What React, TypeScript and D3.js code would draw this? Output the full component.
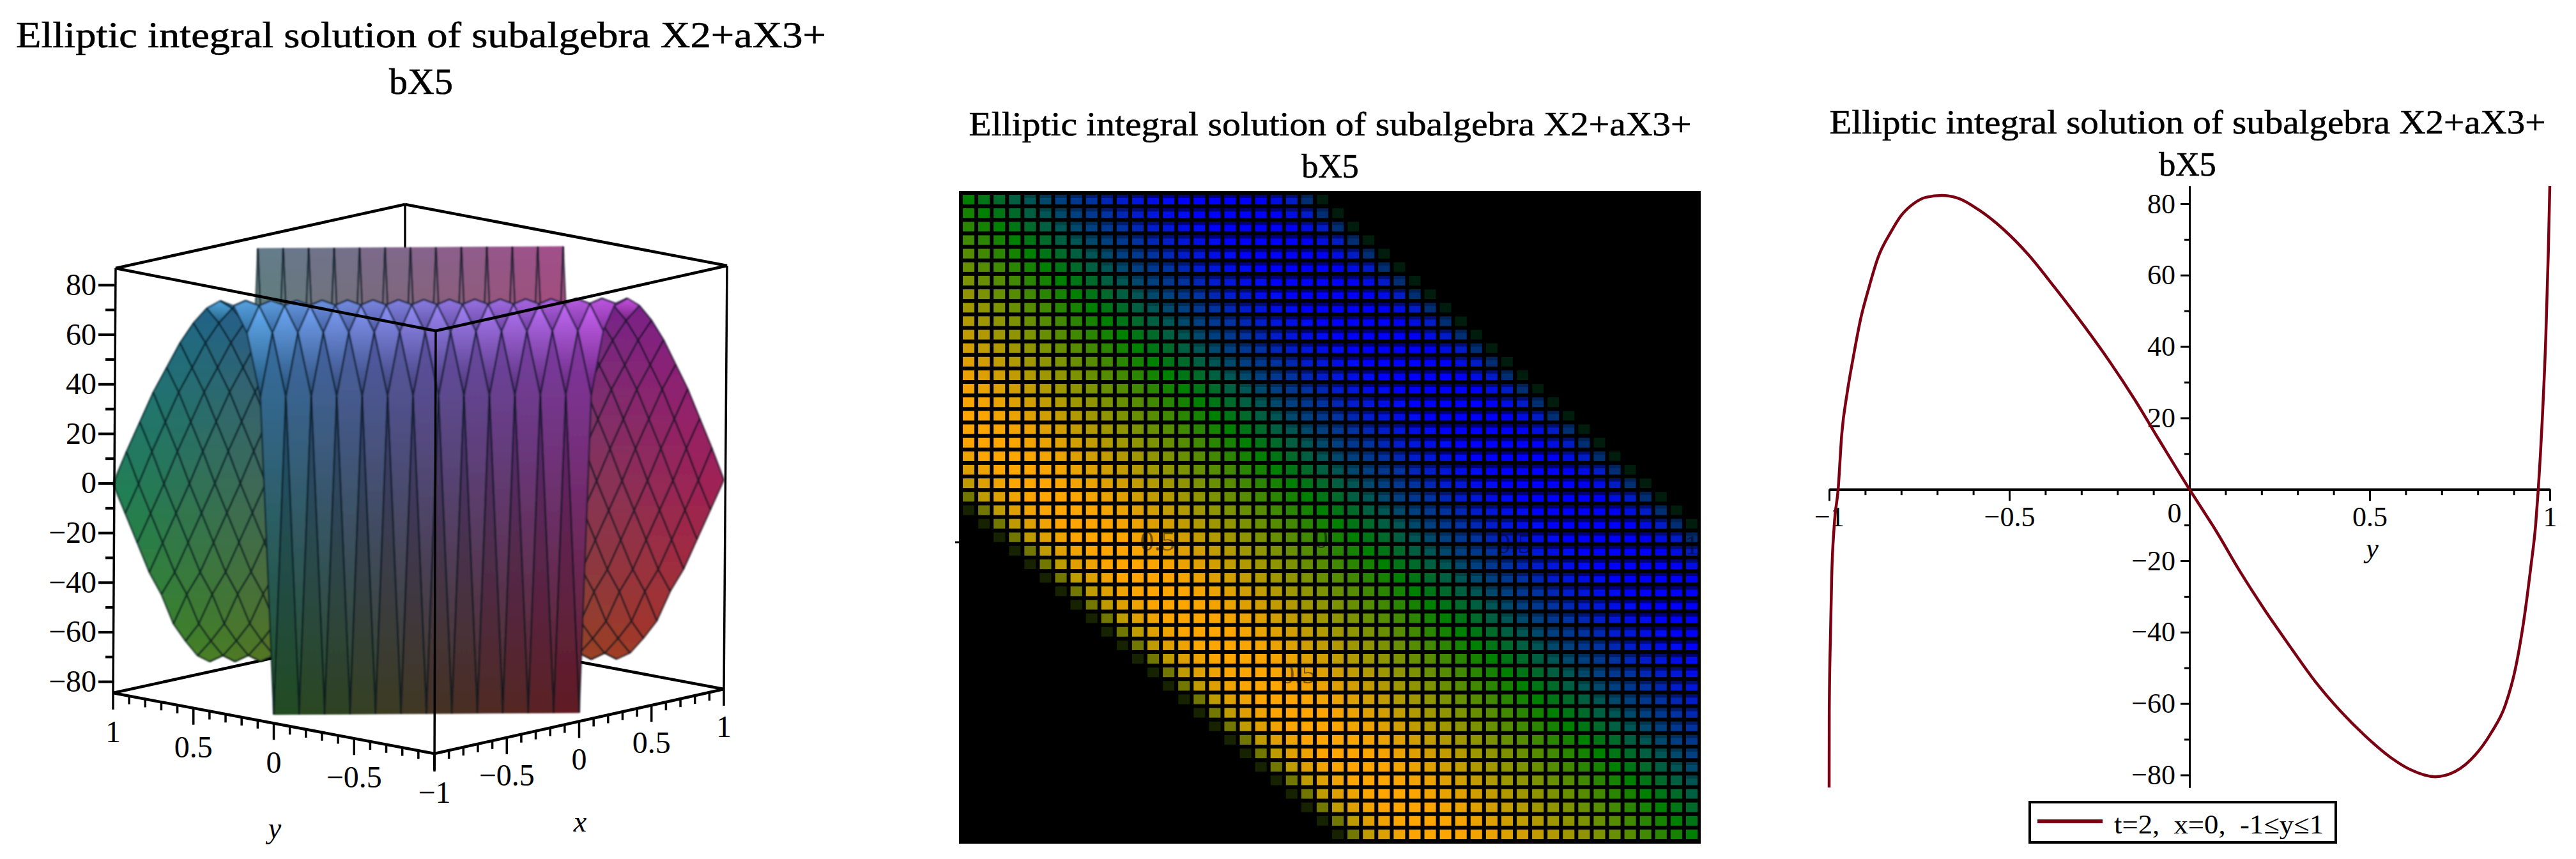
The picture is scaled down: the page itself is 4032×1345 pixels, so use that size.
import React, { useEffect, useRef } from 'react';
import * as d3 from 'd3';

const TITLE_LINE_1 = 'Elliptic integral solution of subalgebra X2+aX3+';
const TITLE_LINE_2 = 'bX5';
const LEGEND_LABEL = 't=2,\u00a0\u00a0x=0,\u00a0\u00a0-1\u2264y\u22641';

// x=0 slice
const curveY = [
  -1, -0.9997, -0.996, -0.993, -0.986, -0.975, -0.965, -0.95, -0.933, -0.912, -0.891, -0.864, -0.829, -0.8, -0.766,
  -0.731, -0.687, -0.641, -0.585, -0.515, -0.446, -0.376, -0.292, -0.223, -0.153, -0.084, 0, 0.042, 0.07, 0.139,
  0.209, 0.279, 0.348, 0.418, 0.487, 0.557, 0.613, 0.682, 0.738, 0.794, 0.836, 0.877, 0.905, 0.926, 0.947, 0.961,
  0.968, 0.979, 0.989, 0.996, 1,
];
const curveZ = [
  -83.5, -62, -39.7, -25, -10.3, 0, 15.4, 27, 37, 48, 56, 65, 72, 76.7, 80,
  81.8, 82.3, 81.5, 78.3, 72.7, 65.6, 56.8, 45.7, 36, 25.3, 13.8, 0, -6.6, -11, -22.8,
  -33.8, -44, -53.7, -62, -69, -75, -78.5, -80.5, -79, -74.3, -68.4, -60.3, -50, -38, -22, -9.6,
  0, 19.4, 43, 67, 85,
];

// same slice at the 49 grid steps y = -1 .. 1 (1/24 apart), used by the surface and the density plot
const sliceZ = [
  -81, 23, 46, 61, 71, 77, 81, 82, 82, 80.5, 78, 75, 71, 67, 62, 57, 51, 45.7, 40, 33, 27, 21, 14, 7,
  0, -7, -13, -20, -26, -33, -39, -44, -49, -55, -62, -66, -70, -74, -77, -79, -80.5, -80, -78, -74.5, -69, -61, -44, -14,
  82,
];

const zMajor = [-80, -60, -40, -20, 0, 20, 40, 60, 80];
const zMinor = [-70, -50, -30, -10, 10, 30, 50, 70];
const xyMajor = [-1, -0.5, 0, 0.5, 1];
const xyMinor = [-0.9, -0.8, -0.7, -0.6, -0.4, -0.3, -0.2, -0.1, 0.1, 0.2, 0.3, 0.4, 0.6, 0.7, 0.8, 0.9];

const densityLabels = [
  { text: '0.5', x: 1812, y: 862 },
  { text: '0.5', x: 2032, y: 1070 },
  { text: '0', x: 2068, y: 858 },
  { text: '0.5', x: 2370, y: 866 },
  { text: '1', x: 2648, y: 868 },
];

const FONT = '"Liberation Serif", "Times New Roman", serif';
const fmtTick = (v: number) => String(v).replace('-', '\u2212');

const drawTitle = (svg, cx, y1, y2, size, width) => {
  const g = svg.append('g').attr('stroke', '#000').attr('stroke-width', 0.6);
  g.append('text').attr('x', cx).attr('y', y1).attr('text-anchor', 'middle')
    .attr('font-size', size).attr('textLength', width).attr('lengthAdjust', 'spacingAndGlyphs')
    .text(TITLE_LINE_1);
  g.append('text').attr('x', cx).attr('y', y2).attr('text-anchor', 'middle')
    .attr('font-size', size).text(TITLE_LINE_2);
};

const drawSurface = (svg, defs) => {
  // parallel projection fitted to the box corners
  const px = (x, y) => 655 + 226.5 * x - 251.5 * y;
  const zScale = d3.scaleLinear().domain([-84.5, 87]).range([0, 665]);
  const py = (x, y, z) => 1082 - 50.5 * x - 47.5 * y - zScale(z);

  const rScale = d3.scaleLinear().domain([-1, 1]).range([0.12, 0.63]);
  const gScale = d3.scaleLinear().domain([-1, 1]).range([0.12, 0.5]);
  const bScale = d3.scaleLinear().domain([-80, 80]).range([0.14, 0.54]);
  // only the gently sloped strip just in front of the ridge catches the light
  const litScale = d3.scaleLinear().domain([-6, -4, 1, 10, 25]).range([0, 0.8, 1, 0.3, 0]).clamp(true);
  const toRgb = (x, y, z, lit) => {
    const ch = (c) => Math.min(255, 255 * (c * (1 + 0.4 * lit) + 0.2 * lit));
    return d3.rgb(ch(rScale(x)), ch(gScale(y)), ch(bScale(z))).formatHex();
  };

  const n = 24;
  const grid = d3.range(n + 1).map((i) => -1 + i / 12);
  const zAt = (k) => sliceZ[2 * k - 24];
  const inBand = (k) => k >= 12 && k <= 36;
  const litAt = (k) => {
    if (!inBand(k + 1) || zAt(k) < 30) return 0;
    return litScale(zAt(k + 1) - zAt(k));
  };
  const vertex = (i, j) => {
    const k = i + j;
    const x = grid[i];
    const y = grid[j];
    const z = zAt(k);
    return { i, j, k, x, y, z, sx: px(x, y), sy: py(x, y, z), color: toRgb(x, y, z, litAt(k)) };
  };

  const cells = [];
  d3.range(n).forEach((i) => d3.range(n).forEach((j) => {
    const corners = [[i, j], [i + 1, j], [i + 1, j + 1], [i, j + 1]]
      .filter(([a, b]) => inBand(a + b))
      .map(([a, b]) => vertex(a, b));
    if (corners.length >= 3) cells.push({ k: i + j, i, j, corners });
  }));
  cells.sort((a, b) => b.k - a.k || a.i - b.i);

  const soft = defs.append('filter').attr('id', 'soft').attr('x', '-2%').attr('y', '-2%')
    .attr('width', '104%').attr('height', '104%');
  soft.append('feGaussianBlur').attr('stdDeviation', 1);

  const back = svg.append('g').attr('fill', 'none').attr('stroke', '#000');
  const backLines = [
    [177, 1085, 634, 985, 4.5], [1133, 1079, 634, 985, 4.5], [634, 320, 634, 390, 3.5],
    [181, 420, 634, 320, 4.5], [1138, 416, 634, 320, 4.5],
  ];
  backLines.forEach(([x1, y1, x2, y2, w]) => {
    back.append('line').attr('x1', x1).attr('y1', y1).attr('x2', x2).attr('y2', y2).attr('stroke-width', w);
  });

  const sheet = svg.append('g').attr('stroke-linejoin', 'round').attr('filter', 'url(#soft)');
  cells.forEach((cell, idx) => {
    const kLo = d3.min(cell.corners, (c) => c.k);
    const kHi = d3.max(cell.corners, (c) => c.k);
    const lo = cell.corners.filter((c) => c.k === kLo);
    const hi = cell.corners.filter((c) => c.k === kHi);
    const id = `cell-${idx}`;
    const grad = defs.append('linearGradient').attr('id', id).attr('gradientUnits', 'userSpaceOnUse')
      .attr('x1', d3.mean(lo, (c) => c.sx)).attr('y1', d3.mean(lo, (c) => c.sy))
      .attr('x2', d3.mean(hi, (c) => c.sx)).attr('y2', d3.mean(hi, (c) => c.sy));
    grad.append('stop').attr('offset', 0).attr('stop-color', lo[0].color);
    grad.append('stop').attr('offset', 1).attr('stop-color', hi[0].color);

    const outline = d3.line().x((c) => c.sx).y((c) => c.sy).curve(d3.curveLinearClosed);
    sheet.append('path').attr('d', outline(cell.corners)).attr('fill', `url(#${id})`)
      .attr('stroke', `url(#${id})`).attr('stroke-width', 0.8);

    // grid edges only, the clipped rim of the band stays unstroked
    const edge = d3.line().x((c) => c.sx).y((c) => c.sy);
    for (let e = 0; e < cell.corners.length; e++) {
      const a = cell.corners[e];
      const b = cell.corners[(e + 1) % cell.corners.length];
      if (Math.abs(a.i - b.i) + Math.abs(a.j - b.j) !== 1) continue;
      sheet.append('path').attr('d', edge([a, b])).attr('fill', 'none')
        .attr('stroke', '#04141e').attr('stroke-opacity', 0.55).attr('stroke-width', 3);
    }
  });

  const front = svg.append('g').attr('fill', 'none').attr('stroke', '#000');
  const frontLines = [
    [181, 420, 682, 518, 4.5], [1138, 416, 682, 518, 4.5], [682, 518, 680, 1208, 3.5],
    [181, 420, 177, 1085, 3.5], [1138, 416, 1133, 1079, 3.5],
    [177, 1085, 680, 1180, 4.5], [1133, 1079, 680, 1180, 4.5],
  ];
  frontLines.forEach(([x1, y1, x2, y2, w]) => {
    front.append('line').attr('x1', x1).attr('y1', y1).attr('x2', x2).attr('y2', y2).attr('stroke-width', w);
  });

  // vertical axis on the left edge of the box
  const zAxisScale = d3.scaleLinear().domain([-80, 80]).range([1067, 446]);
  const zAxis = svg.append('g').attr('transform', 'translate(179,0)');
  zAxis.append('g').call(d3.axisLeft(zAxisScale).tickValues(zMajor).tickSize(25).tickPadding(3).tickFormat(fmtTick));
  zAxis.append('g').call(d3.axisLeft(zAxisScale).tickValues(zMinor).tickSize(14).tickFormat(() => ''));
  zAxis.selectAll('.domain').remove();
  zAxis.selectAll('line').attr('stroke', '#000').attr('stroke-width', 4);
  zAxis.selectAll('text').attr('font-family', FONT).attr('font-size', 48).attr('fill', '#000');

  // floor ticks hang straight down from the two front edges
  const floorY = (x, y) => 1082 - 50.5 * x - 47.5 * y;
  const ticks = svg.append('g').attr('stroke', '#000').attr('stroke-width', 3.5);
  const floorTicks = (values, len, at) => values.forEach((v) => {
    const [x, y] = at(v);
    ticks.append('line').attr('x1', px(x, y)).attr('x2', px(x, y))
      .attr('y1', floorY(x, y)).attr('y2', floorY(x, y) + len);
  });
  floorTicks(xyMajor, 26, (v) => [-1, v]);
  floorTicks(xyMinor, 13, (v) => [-1, v]);
  floorTicks(xyMajor, 26, (v) => [v, -1]);
  floorTicks(xyMinor, 13, (v) => [v, -1]);

  const floorLabel = (v, x, y, dy) => {
    svg.append('text').attr('x', px(x, y)).attr('y', floorY(x, y) + dy).attr('text-anchor', 'middle')
      .attr('font-size', 48).text(fmtTick(v));
  };
  xyMajor.forEach((v) => floorLabel(v, -1, v, 77));
  xyMajor.filter((v) => v > -1).forEach((v) => floorLabel(v, v, -1, 75));

  svg.append('text').attr('x', 430).attr('y', 1312).attr('text-anchor', 'middle')
    .attr('font-size', 46).attr('font-style', 'italic').text('y');
  svg.append('text').attr('x', 908).attr('y', 1302).attr('text-anchor', 'middle')
    .attr('font-size', 46).attr('font-style', 'italic').text('x');
};

const drawDensity = (svg, defs) => {
  const cols = d3.range(48);
  const rows = d3.range(48);
  const xBand = d3.scaleBand().domain(cols).range([1504, 2660]).paddingInner(0.25).paddingOuter(0.125);
  const yBand = d3.scaleBand().domain(rows).range([302, 1317]).paddingInner(0.284).paddingOuter(0.142);
  const color = d3.scaleLinear().domain([-78, 0, 82]).range(['#0000ff', '#008000', '#ffa500'])
    .interpolate(d3.interpolateRgb).clamp(true);
  const edgeFade = d3.scaleThreshold().domain([22, 23, 24]).range([1, 0.8, 0.25, 0]);

  const blur = defs.append('filter').attr('id', 'densityBlur').attr('x', 0).attr('y', 0)
    .attr('width', '100%').attr('height', '100%');
  blur.append('feGaussianBlur').attr('stdDeviation', 0.7);

  svg.append('rect').attr('x', 1501).attr('y', 299).attr('width', 1161).attr('height', 1022).attr('rx', 4).attr('fill', '#000');
  const g = svg.append('g').attr('filter', 'url(#densityBlur)');
  g.append('rect').attr('x', 1501).attr('y', 299).attr('width', 1161).attr('height', 1022).attr('fill', '#000');
  rows.forEach((r) => cols.forEach((c) => {
    const d = c - r;
    const fade = edgeFade(Math.abs(d));
    if (fade === 0) return;
    const z = sliceZ[d + 24];
    g.append('rect').attr('x', xBand(c)).attr('y', yBand(r))
      .attr('width', xBand.bandwidth()).attr('height', yBand.bandwidth())
      .attr('fill', color(z)).attr('fill-opacity', fade);
    if (z < -20) {
      g.append('rect').attr('x', xBand(c)).attr('y', yBand(r))
        .attr('width', xBand.bandwidth()).attr('height', 5)
        .attr('fill', '#000').attr('fill-opacity', (-z / 80) * 0.55 * fade);
    }
  }));

  densityLabels.forEach((l) => {
    g.append('text').attr('x', l.x).attr('y', l.y).attr('text-anchor', 'middle').attr('font-size', 44)
      .attr('fill', '#000').attr('fill-opacity', 0.5).text(l.text);
  });
  svg.append('line').attr('x1', 1495).attr('x2', 1501).attr('y1', 849).attr('y2', 849)
    .attr('stroke', '#000').attr('stroke-width', 3);
};

const drawCurve = (svg) => {
  const x = d3.scaleLinear().domain([-1, 1]).range([2863, 3991]);
  const y = d3.scaleLinear().domain([-83.5, 85]).range([1233, 291]);

  const axisX = svg.append('g').attr('transform', `translate(0,${y(0)})`);
  axisX.append('g').call(d3.axisBottom(x).tickValues(xyMajor).tickSize(18).tickSizeOuter(0).tickPadding(9).tickFormat(fmtTick));
  axisX.append('g').call(d3.axisBottom(x).tickValues(xyMinor).tickSize(9).tickSizeOuter(0).tickFormat(() => ''));
  axisX.selectAll('.domain').attr('stroke', '#000').attr('stroke-width', 4);
  axisX.selectAll('line').attr('stroke', '#000').attr('stroke-width', 3);
  axisX.selectAll('text').attr('font-family', FONT).attr('font-size', 44).attr('fill', '#000');
  axisX.selectAll('.tick').filter((d) => d === 0).select('text').attr('x', -24).attr('y', 21);

  const axisY = svg.append('g').attr('transform', `translate(${x(0)},0)`);
  axisY.append('g').call(d3.axisLeft(y).tickValues(zMajor.filter((v) => v !== 0)).tickSize(14).tickSizeOuter(0).tickPadding(8).tickFormat(fmtTick));
  axisY.append('g').call(d3.axisLeft(y).tickValues(zMinor).tickSize(8).tickSizeOuter(0).tickFormat(() => ''));
  axisY.selectAll('.domain').attr('stroke', '#000').attr('stroke-width', 3);
  axisY.selectAll('line').attr('stroke', '#000').attr('stroke-width', 3);
  axisY.selectAll('text').attr('font-family', FONT).attr('font-size', 44).attr('fill', '#000');

  const line = d3.line().x((d) => x(d)).y((_, i) => y(curveZ[i])).curve(d3.curveMonotoneX);
  svg.append('path').attr('d', line(curveY)).attr('fill', 'none')
    .attr('stroke', '#7b0012').attr('stroke-width', 4.5).attr('stroke-linejoin', 'round');

  svg.append('text').attr('x', 3713).attr('y', 873).attr('text-anchor', 'middle')
    .attr('font-size', 44).attr('font-style', 'italic').text('y');

  svg.append('rect').attr('x', 3177).attr('y', 1256).attr('width', 479).attr('height', 63)
    .attr('fill', '#fff').attr('stroke', '#000').attr('stroke-width', 4);
  svg.append('line').attr('x1', 3189).attr('x2', 3291).attr('y1', 1286).attr('y2', 1286)
    .attr('stroke', '#7b0012').attr('stroke-width', 6);
  svg.append('text').attr('x', 3309).attr('y', 1305).attr('font-size', 42)
    .attr('textLength', 328).attr('lengthAdjust', 'spacingAndGlyphs').text(LEGEND_LABEL);
};

const App = () => {
  const svgRef = useRef(null);

  useEffect(() => {
    const svg = d3.select(svgRef.current);
    svg.selectAll('*').remove();
    const defs = svg.append('defs');

    drawTitle(svg, 659, 74, 147, 58, 1268);
    drawTitle(svg, 2082, 212, 278, 52, 1131);
    drawTitle(svg, 3424, 209, 275, 52, 1121);

    drawSurface(svg, defs);
    drawDensity(svg, defs);
    drawCurve(svg);
  }, []);

  return (
    <svg
      ref={svgRef}
      width={4032}
      height={1345}
      fontFamily={FONT}
      style={{ position: 'absolute', left: 0, top: 0, background: '#fff' }}
    />
  );
};

export default App;
